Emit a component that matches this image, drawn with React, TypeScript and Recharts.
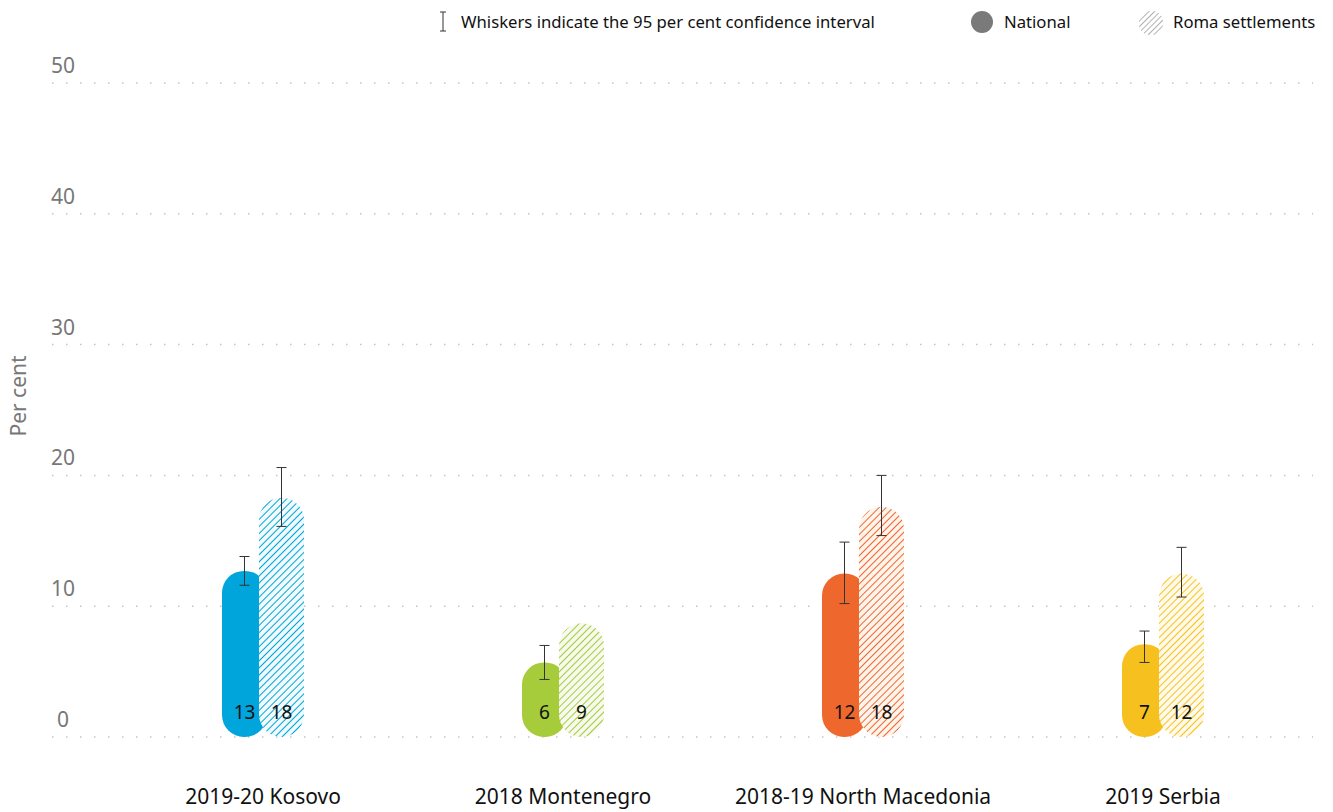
import { BarChart, Bar, XAxis, YAxis, CartesianGrid, ErrorBar, Cell, LabelList } from "recharts";

const categories = ["2019-20 Kosovo", "2018 Montenegro", "2018-19 North Macedonia", "2019 Serbia"];

// bar heights
const national = [12.7, 5.7, 12.5, 7.1];
const roma = [18.3, 8.7, 17.6, 12.5];

// 95% confidence interval ends
const nationalLow = [11.6, 4.4, 10.2, 5.7];
const nationalHigh = [13.8, 7.0, 14.9, 8.1];
const romaLow = [16.1, null, 15.4, 10.7];
const romaHigh = [20.6, null, 20.0, 14.5];

// printed values
const nationalLabels = [13, 6, 12, 7];
const romaLabels = [18, 9, 18, 12];

const yTicks = [0, 10, 20, 30, 40, 50];

const solidColors = ["#00a5db", "#a6cb3b", "#ee682e", "#f6c11e"];
const hatchBg = ["#f1fafd", "#f7faee", "#fef4ec", "#fffaea"];

const data = categories.map((name, i) => ({
	name,
	national: national[i],
	roma: roma[i],
	nationalErr: [national[i] - nationalLow[i], nationalHigh[i] - national[i]],
	romaErr:
		romaLow[i] == null ? null : [roma[i] - (romaLow[i] as number), (romaHigh[i] as number) - roma[i]],
	nationalLabel: nationalLabels[i],
	romaLabel: romaLabels[i],
}));

const ValueLabel = (props: any) => {
	const { x, y, width, height, value } = props;
	return (
		<text x={x + width / 2} y={y + height - 18} textAnchor="middle" fontSize={19} fill="#111">
			{value}
		</text>
	);
};

const XTick = ({ x, y, payload }: any) => (
	<text x={x} y={y + 59} textAnchor="middle" fontSize={21} fill="#111">
		{payload.value}
	</text>
);

const YTick = ({ y, payload }: any) => (
	<text x={63} y={y - 10} textAnchor="middle" fontSize={21} fill="#777">
		{payload.value}
	</text>
);

function Legend() {
	return (
		<svg width={1333} height={45} style={{ position: "absolute", left: 0, top: 0 }}>
			<defs>
				<pattern id="legendHatch" patternUnits="userSpaceOnUse" width={4} height={4} patternTransform="rotate(45)">
					<line x1={0} y1={0} x2={0} y2={4} stroke="#888" strokeWidth={1.3} />
				</pattern>
			</defs>
			<g stroke="#333" strokeWidth={1}>
				<line x1={443} y1={12} x2={443} y2={31} />
				<line x1={440} y1={12} x2={446} y2={12} />
				<line x1={440} y1={31} x2={446} y2={31} />
			</g>
			<text x={461} y={28} fontSize={16.7} fill="#111">
				Whiskers indicate the 95 per cent confidence interval
			</text>
			<circle cx={982} cy={22} r={11} fill="#7a7a7a" />
			<text x={1004} y={28} fontSize={16.7} fill="#111">
				National
			</text>
			<rect x={1139} y={11} width={24} height={24} rx={10} fill="url(#legendHatch)" />
			<text x={1173} y={28} fontSize={16.7} fill="#111">
				Roma settlements
			</text>
		</svg>
	);
}

export default function App() {
	return (
		<div style={{ position: "absolute", left: 0, top: 0, width: 1333, height: 812, fontFamily: "'Noto Sans', sans-serif", background: "#fff" }}>
			<Legend />
			<BarChart
				width={1333}
				height={812}
				data={data}
				margin={{ top: 83, right: 20, bottom: 0, left: 0 }}
				barSize={45}
				barGap={-8}
			>
				<defs>
					{solidColors.map((c, i) => (
						<pattern
							key={i}
							id={`hatch${i}`}
							patternUnits="userSpaceOnUse"
							width={5}
							height={5}
							patternTransform="rotate(45)"
						>
							<rect x={0} y={0} width={5} height={5} fill={hatchBg[i]} />
							<line x1={0} y1={0} x2={0} y2={5} stroke={c} strokeWidth={2} />
						</pattern>
					))}
				</defs>
				<CartesianGrid vertical={false} stroke="#c4c4c4" strokeWidth={1.5} strokeDasharray="1.5 12.5" />
				<XAxis
					dataKey="name"
					axisLine={false}
					tickLine={false}
					height={75}
					padding={{ left: 61, right: 0 }}
					tick={<XTick />}
					interval={0}
				/>
				<YAxis
					width={52}
					domain={[0, 50]}
					ticks={yTicks}
					axisLine={false}
					tickLine={false}
					tick={<YTick />}
				/>
				<Bar dataKey="national" radius={[22, 22, 22, 22]} isAnimationActive={false}>
					{data.map((_, i) => (
						<Cell key={i} fill={solidColors[i]} />
					))}
					<ErrorBar dataKey="nationalErr" width={5} stroke="#333" strokeWidth={1} direction="y" />
					<LabelList dataKey="nationalLabel" content={<ValueLabel />} />
				</Bar>
				<Bar dataKey="roma" radius={[23, 23, 23, 23]} isAnimationActive={false}>
					{data.map((_, i) => (
						<Cell key={i} fill={`url(#hatch${i})`} />
					))}
					<ErrorBar dataKey="romaErr" width={5} stroke="#333" strokeWidth={1} direction="y" />
					<LabelList dataKey="romaLabel" content={<ValueLabel />} />
				</Bar>
			</BarChart>
			<svg width={40} height={812} style={{ position: "absolute", left: 0, top: 0 }}>
				<text x={26} y={396} transform="rotate(-90 26 396)" textAnchor="middle" fontSize={21} fill="#777">
					Per cent
				</text>
			</svg>
		</div>
	);
}
